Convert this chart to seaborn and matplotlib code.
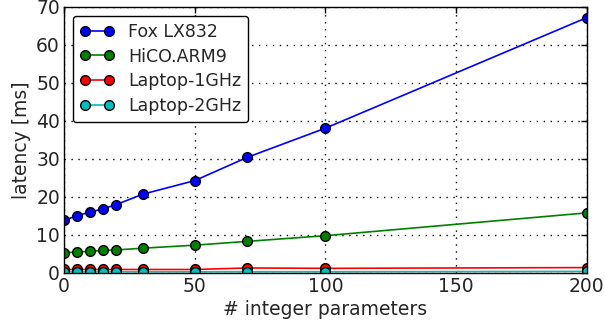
import numpy as np
import pandas as pd
import matplotlib
matplotlib.use("Agg")
import matplotlib.pyplot as plt
import seaborn as sns

params = [0, 5, 10, 15, 20, 30, 50, 70, 100, 200]
fox = [13.8, 15.1, 16.0, 16.9, 18.0, 20.7, 24.3, 30.4, 38.1, 67.2]
hico = [5.3, 5.5, 5.7, 5.9, 6.05, 6.5, 7.3, 8.3, 9.8, 15.8]
lap1 = [0.9, 0.9, 0.9, 0.9, 0.9, 0.9, 0.9, 1.3, 1.2, 1.4]
lap2 = [0.3, 0.3, 0.3, 0.3, 0.3, 0.3, 0.3, 0.3, 0.3, 0.4]
names = ["Fox LX832", "HiCO.ARM9", "Laptop-1GHz", "Laptop-2GHz"]
colors = ["#0000ff", "#008000", "#ff0000", "#00bfbf"]

df = pd.concat([
    pd.DataFrame({"params": params, "latency": vals, "device": n})
    for n, vals in zip(names, [fox, hico, lap1, lap2])
])

sns.set_style("white")
plt.rcParams["font.family"] = ["DejaVu Sans"]
plt.rcParams["font.size"] = 13

fig = plt.figure(figsize=(6.05, 3.32), dpi=100)
ax = fig.add_axes([0.106, 0.178, 0.864, 0.801])

sns.lineplot(data=df, x="params", y="latency", hue="device", hue_order=names,
             palette=colors, marker="o", markersize=7, markeredgecolor="black",
             markeredgewidth=1, linewidth=1.2, errorbar=None, legend=False, ax=ax)

ax.set_xlim(0, 200)
ax.set_ylim(0, 70)
ax.set_xticks([0, 50, 100, 150, 200])
ax.set_yticks(range(0, 71, 10))
ax.set_xlabel("# integer parameters", fontsize=13.5, labelpad=3)
ax.set_ylabel("latency [ms]", fontsize=13.5, labelpad=4)
ax.grid(True, color="black", linestyle=(0, (1, 4)), linewidth=1)
ax.tick_params(direction="in", length=4, width=1, top=True, right=True,
               labelsize=13.5, pad=3, color="black")
for s in ax.spines.values():
    s.set_color("black")
    s.set_linewidth(1)
    s.set_visible(True)

ax.legend(ax.lines[:4], names, loc="upper left", numpoints=2, fontsize=12.5,
          frameon=True, fancybox=True, framealpha=1, edgecolor="black",
          borderaxespad=0.5, handlelength=2.0, labelspacing=0.4)

fig.savefig("out.png", dpi=100)
